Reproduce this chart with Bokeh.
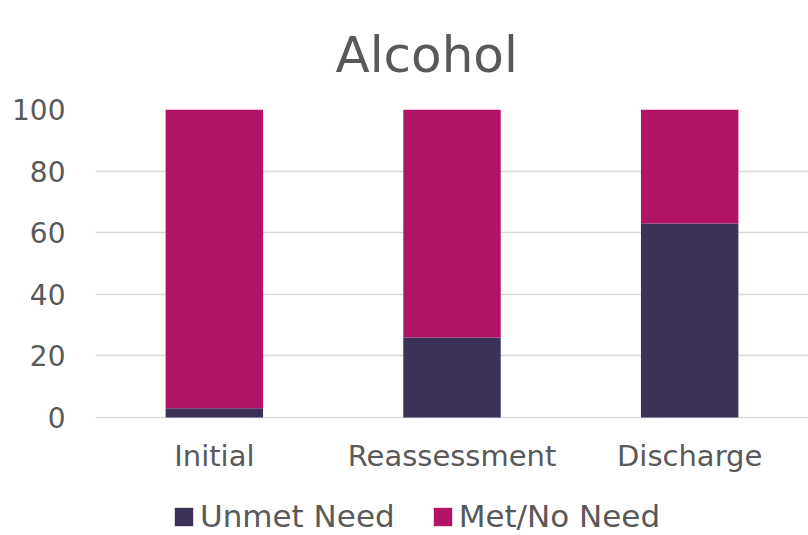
from bokeh.plotting import figure
from bokeh.models import FactorRange, Legend, LegendItem, Title
from bokeh.embed import file_html
from bokeh.resources import INLINE

categories = ["Initial", "Reassessment", "Discharge"]
unmet_need = [3, 26, 63]
met_no_need = [97, 74, 37]
series = ["Unmet Need", "Met/No Need"]
colors = ["#3C3159", "#B11466"]
y_ticks = [0, 20, 40, 60, 80, 100]

FONT = "DejaVu Sans"
TXT = "#595959"

# frame runs to the bottom edge; the space under 0 holds category labels and legend
PX_PER_UNIT = 308 / 100
Y_BOTTOM = -118 / PX_PER_UNIT

p = figure(x_range=FactorRange(*categories, range_padding=0), y_range=(Y_BOTTOM, 100),
           width=808, height=535, output_backend="svg", toolbar_location=None,
           x_axis_location=None,
           min_border_left=95, min_border_right=0, min_border_top=109, min_border_bottom=0)
p.outline_line_color = None
p.background_fill_color = "white"
p.border_fill_color = "white"

src = dict(cat=categories, unmet=unmet_need, met=met_no_need)
rs = p.vbar_stack(["unmet", "met"], x="cat", width=0.41, color=colors, line_color=None, source=src)

# category labels under the zero line
p.text(x=categories, y=[0] * len(categories), text=categories, text_align="center",
       text_baseline="alphabetic", y_offset=38, text_font_size="29px",
       text_font={"value": FONT}, text_color=TXT)

p.title = Title(text="Alcohol", align="left", offset=240, vertical_align="top", standoff=48,
                text_font=FONT, text_font_size="50px", text_font_style="normal",
                text_color=TXT)

p.xgrid.grid_line_color = None
p.ygrid.grid_line_color = "#D9D9D9"
p.ygrid.grid_line_width = 1.5
p.ygrid.ticker = y_ticks
p.yaxis.ticker = y_ticks

ax = p.yaxis[0]
ax.axis_line_color = None
ax.major_tick_line_color = None
ax.minor_tick_line_color = None
ax.major_tick_out = 0
ax.major_tick_in = 0
ax.major_label_text_font = FONT
ax.major_label_text_font_size = "28px"
ax.major_label_text_color = TXT
ax.major_label_standoff = 30

legend = Legend(items=[LegendItem(label=s, renderers=[r]) for s, r in zip(series, rs)],
                orientation="horizontal", location=(77, 1),
                glyph_width=23, glyph_height=23, label_standoff=5, spacing=36,
                padding=0, margin=0, border_line_color=None, background_fill_alpha=0,
                label_text_font=FONT, label_text_font_size="31px", label_text_color=TXT)
p.add_layout(legend, "center")

open("out.html", "w").write(file_html(p, INLINE))
